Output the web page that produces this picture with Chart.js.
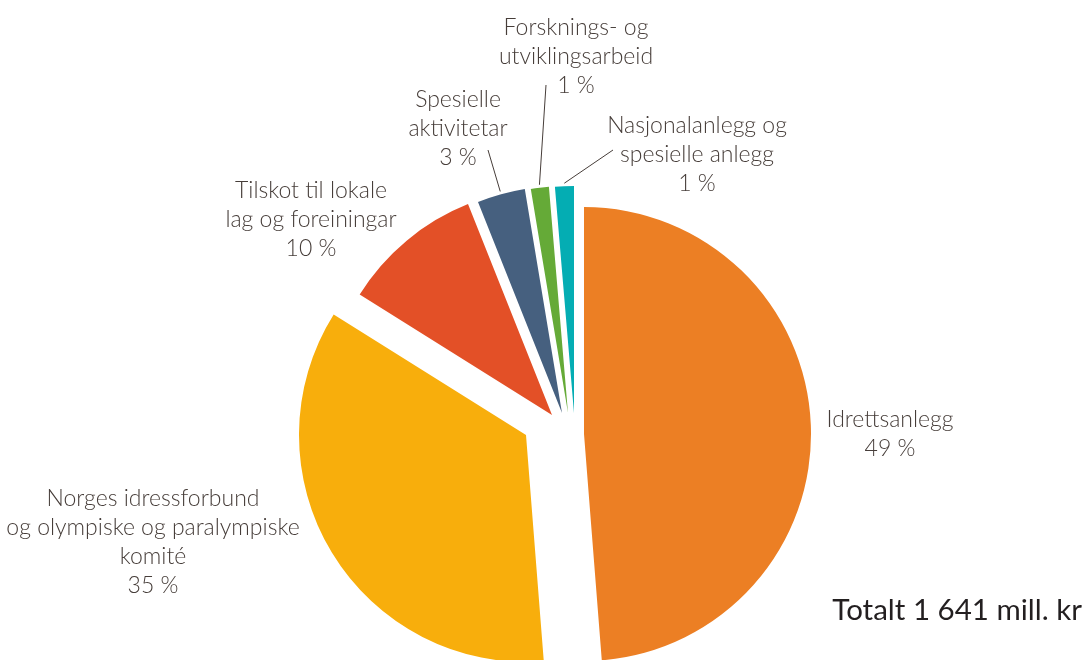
<!DOCTYPE html>
<html>
<head>
<meta charset="utf-8">
<script src="https://cdn.jsdelivr.net/npm/chart.js@4/dist/chart.umd.min.js"></script>
<style>
  html, body { margin: 0; padding: 0; background: #fff; overflow: hidden; }
  #wrap { position: relative; width: 1086px; height: 660px; }
</style>
</head>
<body>
<div id="wrap"><canvas id="pie"></canvas></div>
<script>
// Tilskot fordelt på formål (mill. kr)
const categories = [
  ['Idrettsanlegg'],
  ['Norges idressforbund', 'og olympiske og paralympiske', 'komité'],
  ['Tilskot til lokale', 'lag og foreiningar'],
  ['Spesielle', 'aktivitetar'],
  ['Forsknings- og', 'utviklingsarbeid'],
  ['Nasjonalanlegg og', 'spesielle anlegg']
];
const amounts = [800, 577, 165, 56, 21, 22];
const sliceColors = ['#ec7f24', '#f8ae0c', '#e35027', '#46607f', '#65aa37', '#04adb3'];

// each slice is pulled out by hand in the original, so nudge them the same way (px)
const shiftX = [11, -47, -21, -11, -5, 1];
const shiftY = [4, 5, -15, -17, -17, -17];

// label anchor (centre x, first baseline), relative to the slice tip
const labelDX = [306, -373, -241, -104, 8, 123];
const labelDY = [-7, 71, -217, -306, -378, -280];
// leader line end, relative to the slice tip
const leaderEnd = [null, null, null, [-74, -263], [-22, -328], [39, -263]];

const total = amounts.reduce((a, b) => a + b, 0);
const fmt = n => String(n).replace(/\B(?=(\d{3})+(?!\d))/g, ' ');

const explode = {
  id: 'explode',
  afterUpdate(chart) {
    chart.getDatasetMeta(0).data.forEach((arc, i) => {
      arc.x += shiftX[i];
      arc.y += shiftY[i];
    });
  }
};

const sliceLabels = {
  id: 'sliceLabels',
  afterDraw(chart) {
    const ctx = chart.ctx;
    const arcs = chart.getDatasetMeta(0).data;
    ctx.save();
    ctx.fillStyle = '#463d39';
    ctx.strokeStyle = '#463d39';
    ctx.lineWidth = 1;
    ctx.font = '300 23px Lato';
    ctx.textAlign = 'center';
    ctx.textBaseline = 'alphabetic';
    arcs.forEach((arc, i) => {
      const { x, y, startAngle, endAngle, outerRadius } =
        arc.getProps(['x', 'y', 'startAngle', 'endAngle', 'outerRadius'], true);
      const lines = [...categories[i], Math.round(amounts[i] / total * 100) + ' %'];
      const lx = x + labelDX[i];
      const ly = y + labelDY[i];
      lines.forEach((t, k) => ctx.fillText(t, lx, ly + k * 29));
      if (leaderEnd[i]) {
        const mid = (startAngle + endAngle) / 2;
        ctx.beginPath();
        ctx.moveTo(x + Math.cos(mid) * (outerRadius + 3), y + Math.sin(mid) * (outerRadius + 3));
        ctx.lineTo(x + leaderEnd[i][0], y + leaderEnd[i][1]);
        ctx.stroke();
      }
    });
    ctx.font = '400 29.5px Lato';
    ctx.fillStyle = '#231f20';
    ctx.textAlign = 'right';
    ctx.fillText('Totalt ' + fmt(total) + ' mill. kr', chart.width - 4, chart.height - 40);
    ctx.restore();
  }
};

new Chart(document.getElementById('pie'), {
  type: 'pie',
  data: {
    labels: categories.map(c => c.join(' ')),
    datasets: [{
      data: amounts,
      backgroundColor: sliceColors,
      borderWidth: 0
    }]
  },
  options: {
    responsive: true,
    maintainAspectRatio: false,
    animation: false,
    events: [],
    layout: { padding: { top: 203, bottom: 3, left: 60, right: 0 } },
    plugins: {
      legend: { display: false },
      tooltip: { enabled: false }
    }
  },
  plugins: [explode, sliceLabels]
});
</script>
</body>
</html>
